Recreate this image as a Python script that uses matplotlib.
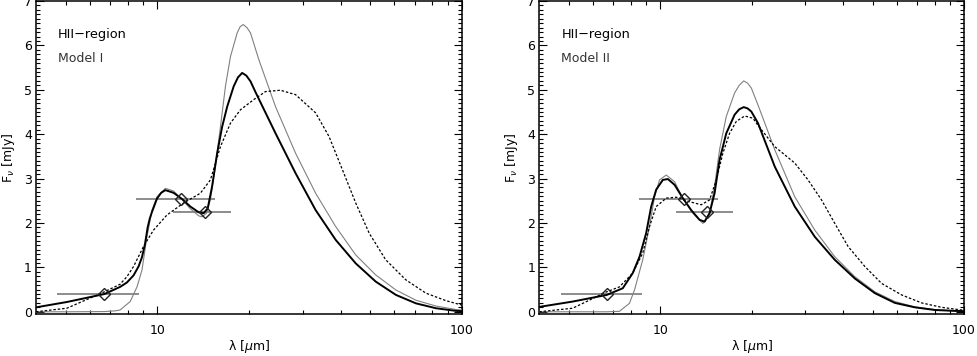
import numpy as np
import matplotlib
matplotlib.use("Agg")
import matplotlib.pyplot as plt
from matplotlib.ticker import FixedLocator, NullFormatter, MultipleLocator

plt.rcParams['font.family'] = ['DejaVu Sans']
plt.rcParams['mathtext.fontset'] = 'dejavusans'

# photometry (same in both panels)
obs_lam = [6.7, 12.0, 14.3]
obs_flux = [0.40, 2.53, 2.25]
obs_lo = [2.0, 3.5, 3.0]
obs_hi = [2.0, 3.5, 3.1]

# Model I
m1_black_lam = [4.0, 5.05, 6.71, 7.55, 7.95, 8.36, 8.68, 8.9, 9.1, 9.30, 9.45, 9.61, 9.98,
                10.3, 10.63, 11.31, 12.06, 12.84, 13.68, 14.2, 14.64, 15.13, 15.72, 16.33,
                16.96, 17.82, 18.4, 18.99, 19.6, 20.23, 21.0, 24.44, 28.44, 33.09, 38.5,
                44.8, 52.1, 60.7, 70.6, 82.1, 95.6, 100]
m1_black_flux = [0.10, 0.22, 0.40, 0.56, 0.66, 0.82, 1.02, 1.22, 1.5, 1.90, 2.1, 2.25, 2.55,
                 2.68, 2.74, 2.68, 2.54, 2.37, 2.24, 2.22, 2.33, 2.82, 3.57, 4.17,
                 4.62, 5.08, 5.28, 5.38, 5.32, 5.19, 4.95, 4.02, 3.12, 2.29, 1.62,
                 1.09, 0.68, 0.38, 0.19, 0.08, 0.02, 0.015]
m1_gray_lam = [4.0, 5.05, 6.71, 7.25, 7.55, 8.15, 8.58, 8.91, 9.25, 9.61, 9.98, 10.63,
               11.31, 12.06, 12.84, 13.68, 14.03, 14.5, 14.94, 15.51, 16.12, 16.74,
               17.39, 18.29, 18.7, 19.14, 19.7, 20.23, 21.54, 24.44, 28.44, 33.09, 38.5,
               44.8, 52.1, 60.7, 70.6, 82.1, 95.6, 100]
m1_gray_flux = [0.0, 0.0, 0.005, 0.02, 0.04, 0.23, 0.56, 0.94, 1.69, 2.29, 2.59, 2.78,
                2.72, 2.53, 2.32, 2.16, 2.14, 2.22, 2.52, 3.27, 4.17, 5.08,
                5.75, 6.28, 6.42, 6.47, 6.40, 6.28, 5.68, 4.62, 3.57, 2.67, 1.92,
                1.28, 0.83, 0.49, 0.26, 0.13, 0.05, 0.04]
m1_dash_lam = [4.0, 5.05, 6.71, 7.55, 7.95, 8.36, 9.01, 9.72, 10.76, 12.2, 13.85, 14.94,
               16.12, 17.39, 18.75, 20.74, 22.66, 25.38, 28.44, 33.09, 36.6, 40.51,
               44.8, 49.6, 56.2, 65.4, 76.1, 88.6, 100]
m1_dash_flux = [0.0, 0.08, 0.45, 0.62, 0.79, 1.02, 1.47, 1.84, 2.18, 2.45, 2.67, 2.97,
                3.72, 4.25, 4.55, 4.78, 4.96, 4.99, 4.89, 4.48, 3.95, 3.20,
                2.45, 1.77, 1.17, 0.72, 0.42, 0.25, 0.15]

# Model II
m2_black_lam = [4.0, 5.15, 6.67, 7.53, 8.12, 8.55, 8.99, 9.34, 9.70, 10.2, 10.6, 11.15,
                11.87, 12.65, 13.48, 14.0, 14.54, 15.10, 15.68, 16.5, 17.58, 18.2, 18.83,
                19.4, 19.95, 20.98, 23.83, 27.73, 32.27, 37.56, 43.72, 50.87, 59.22, 68.93,
                80.25, 93.4, 100]
m2_black_flux = [0.11, 0.23, 0.38, 0.53, 0.87, 1.24, 1.77, 2.37, 2.75, 2.97, 2.99, 2.86,
                 2.56, 2.29, 2.07, 2.03, 2.22, 2.67, 3.42, 4.02, 4.44, 4.56, 4.61,
                 4.58, 4.51, 4.25, 3.27, 2.37, 1.69, 1.17, 0.75, 0.42, 0.20, 0.10,
                 0.04, 0.02, 0.015]
m2_gray_lam = [4.0, 6.67, 7.34, 7.92, 8.23, 8.76, 9.22, 9.58, 9.95, 10.47, 11.15, 11.87,
               12.81, 13.82, 14.54, 15.10, 15.68, 16.5, 17.58, 18.2, 18.83, 19.4, 19.95,
               20.98, 23.83, 27.73, 32.27, 37.56, 43.72, 50.87, 59.22, 68.93, 80.25, 93.4, 100]
m2_gray_flux = [0.0, 0.0, 0.01, 0.19, 0.49, 1.17, 1.92, 2.59, 2.97, 3.08, 2.93, 2.56,
                2.22, 1.99, 2.22, 2.82, 3.65, 4.40, 4.93, 5.10, 5.20, 5.15, 5.04,
                4.66, 3.65, 2.59, 1.84, 1.24, 0.79, 0.45, 0.23, 0.11, 0.05, 0.02, 0.015]
m2_dash_lam = [4.0, 5.15, 6.67, 7.34, 8.12, 8.76, 9.22, 9.70, 10.47, 11.29, 12.49, 13.65,
               14.54, 15.3, 16.08, 16.92, 17.81, 18.97, 20.2, 20.98, 23.83, 27.73,
               30.67, 33.96, 37.56, 41.55, 47.17, 53.53, 62.31, 72.53, 84.44, 98.3, 100]
m2_dash_flux = [0.0, 0.08, 0.45, 0.56, 0.87, 1.32, 1.92, 2.37, 2.56, 2.58, 2.48, 2.41,
                2.52, 2.97, 3.57, 4.02, 4.29, 4.41, 4.36, 4.2, 3.72, 3.35,
                2.97, 2.52, 1.99, 1.47, 1.02, 0.64, 0.38, 0.20, 0.10, 0.04, 0.04]

panels = [
    ("Model I", m1_black_lam, m1_black_flux, m1_gray_lam, m1_gray_flux, m1_dash_lam, m1_dash_flux),
    ("Model II", m2_black_lam, m2_black_flux, m2_gray_lam, m2_gray_flux, m2_dash_lam, m2_dash_flux),
]

fig = plt.figure(figsize=(9.77, 3.56), dpi=100)
axes_pos = [[36/977, 42/356, 426/977, 313/356],
            [539.3/977, 42/356, 424.7/977, 313/356]]

for pos, (name, bl, bf, gl, gf, dl, df) in zip(axes_pos, panels):
    ax = fig.add_axes(pos)
    ax.set_xscale('log')

    # filter bandwidths
    ax.errorbar(obs_lam, obs_flux, xerr=[obs_lo, obs_hi], fmt='none',
                ecolor='#6e6e6e', elinewidth=1.1, capsize=0, zorder=2)

    ax.plot(gl, gf, color='#808080', lw=0.8, zorder=3)
    ax.plot(dl, df, color='black', lw=0.9, ls=(0, (2, 1.5)), zorder=3)
    ax.plot(bl, bf, color='black', lw=1.4, zorder=4)

    ax.plot(obs_lam, obs_flux, ls='none', marker='D', ms=6.3, mfc='none',
            mec='#222222', mew=1.0, zorder=5)

    ax.set_xlim(4.0, 100)
    ax.set_ylim(-0.05, 7.0)

    ax.xaxis.set_major_locator(FixedLocator([10, 100]))
    ax.xaxis.set_minor_locator(FixedLocator([5, 6, 7, 8, 9, 20, 30, 40, 50, 60, 70, 80, 90]))
    ax.xaxis.set_minor_formatter(NullFormatter())
    ax.set_xticklabels(['10', '100'])
    ax.yaxis.set_major_locator(MultipleLocator(1))
    ax.yaxis.set_minor_locator(MultipleLocator(0.1))

    ax.tick_params(which='both', direction='in', top=True, right=True,
                   labelsize=9, width=0.8)
    ax.tick_params(which='major', length=6)
    ax.tick_params(which='minor', length=3)
    ax.tick_params(axis='x', which='major', pad=7)
    ax.tick_params(axis='y', which='major', pad=3)
    for s in ax.spines.values():
        s.set_linewidth(1.1)

    ax.set_xlabel(r'λ [$\mu$m]', fontsize=9, labelpad=1)
    ax.set_ylabel(r'F$_\nu$ [mJy]', fontsize=9, labelpad=5)

    ax.text(0.052, 0.883, 'HII−region', transform=ax.transAxes, fontsize=9.3,
            color='black')
    ax.text(0.052, 0.806, name, transform=ax.transAxes, fontsize=9,
            color='#333333')

fig.savefig('out.png', dpi=100)
